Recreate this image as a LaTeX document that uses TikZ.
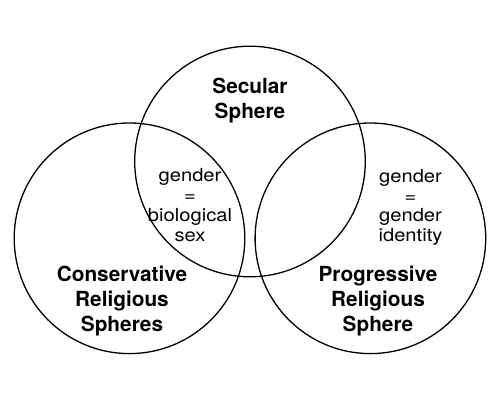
\documentclass[tikz,border=0pt]{standalone}
\usepackage{fontspec}
\setmainfont{TeX Gyre Heros}
\newfontfamily\regfont[FakeStretch=1.12]{TeX Gyre Heros}
\begin{document}
\begin{tikzpicture}[x=1pt,y=-1pt,
  sphere/.style={circle,draw,line width=1.3pt,minimum size=230.6pt,inner sep=0pt},
  biglabel/.style={align=center,inner sep=0pt,anchor=base,font=\fontsize{20.8}{25.2}\selectfont\bfseries},
  smalllabel/.style={align=center,inner sep=0pt,anchor=base,font=\fontsize{18}{19.7}\selectfont\regfont}]
\useasboundingbox (0,0) rectangle (500,400);
\node[sphere] (sec) at (250,161.5) {};
\node[sphere] (con) at (129.5,238.3) {};
\node[sphere] (pro) at (370.4,238.3) {};
\node[biglabel] (secl) at (250,118.5) {Secular\\Sphere};
\node[biglabel] (conl) at (122,331.5) {Conservative\\Religious\\Spheres};
\node[biglabel] (prol) at (378,331.5) {Progressive\\Religious\\Sphere};
\node[smalllabel] (bio) at (190,241) {gender\\=\\biological\\sex};
\node[smalllabel] (gid) at (410.5,241.5) {gender\\=\\gender\\identity};
\end{tikzpicture}
\end{document}
